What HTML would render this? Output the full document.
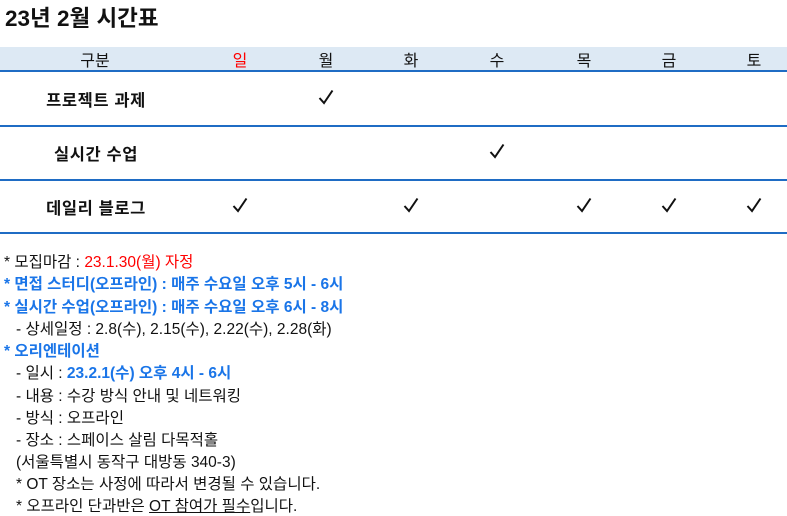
<!DOCTYPE html>
<html><head><meta charset="utf-8"><style>
body{margin:0;width:787px;height:515px;background:#fff;position:relative;overflow:hidden;font-family:"Liberation Sans","Noto Sans CJK KR",sans-serif;color:#111}
.a{position:absolute;white-space:nowrap}
.c{position:absolute;transform:translateX(-50%);white-space:nowrap}
.ln{position:absolute;left:0;width:787px;height:2px;background:#1f6cc4}
.hdr{position:absolute;left:0;top:47px;width:787px;height:24px;background:#dde9f4}
.h{font-size:16px;top:47px}
.r{font-size:16.5px;font-weight:bold;letter-spacing:0.6px}
.ck{position:absolute;width:16px;height:16px}
.t{position:absolute;left:4px;font-size:15.5px;white-space:nowrap}
.b{color:#1a75e8;font-weight:bold}
.red{color:#f00}
</style></head><body>
<div class="a" style="left:5px;top:1px;font-size:22.5px;font-weight:bold">23년 2월 시간표</div>
<div class="hdr"></div>
<div class="ln" style="top:70px"></div>
<div class="ln" style="top:125px"></div>
<div class="ln" style="top:179px"></div>
<div class="ln" style="top:232px"></div>
<div class="c h" style="left:95px">구분</div>
<div class="c h red" style="left:240px">일</div>
<div class="c h" style="left:326px">월</div>
<div class="c h" style="left:411px">화</div>
<div class="c h" style="left:497px">수</div>
<div class="c h" style="left:584px">목</div>
<div class="c h" style="left:669px">금</div>
<div class="c h" style="left:754px">토</div>
<div class="c r" style="left:96px;top:87px">프로젝트 과제</div>
<div class="c r" style="left:96px;top:141px">실시간 수업</div>
<div class="c r" style="left:96px;top:195px">데일리 블로그</div>
<svg width="0" height="0" style="position:absolute"><defs><symbol id="k" viewBox="0 0 16 16"><polyline points="1.5,9 6,14 14.5,1.5" fill="none" stroke="#111" stroke-width="2"/></symbol></defs></svg>
<svg class="ck" style="left:318px;top:89px"><use href="#k"/></svg>
<svg class="ck" style="left:489px;top:143px"><use href="#k"/></svg>
<svg class="ck" style="left:232px;top:197px"><use href="#k"/></svg>
<svg class="ck" style="left:403px;top:197px"><use href="#k"/></svg>
<svg class="ck" style="left:576px;top:197px"><use href="#k"/></svg>
<svg class="ck" style="left:661px;top:197px"><use href="#k"/></svg>
<svg class="ck" style="left:746px;top:197px"><use href="#k"/></svg>
<div class="t" style="top:250px">* 모집마감 : <span class="red">23.1.30(월) 자정</span></div>
<div class="t b" style="top:272px">* 면접 스터디(오프라인) : 매주 수요일 오후 5시 - 6시</div>
<div class="t b" style="top:295px">* 실시간 수업(오프라인) : 매주 수요일 오후 6시 - 8시</div>
<div class="t" style="top:317px;left:16px">- 상세일정 : 2.8(수), 2.15(수), 2.22(수), 2.28(화)</div>
<div class="t b" style="top:339px">* 오리엔테이션</div>
<div class="t" style="top:361px;left:16px">- 일시 : <span class="b">23.2.1(수) 오후 4시 - 6시</span></div>
<div class="t" style="top:384px;left:16px">- 내용 : 수강 방식 안내 및 네트워킹</div>
<div class="t" style="top:406px;left:16px">- 방식 : 오프라인</div>
<div class="t" style="top:428px;left:16px">- 장소 : 스페이스 살림 다목적홀</div>
<div class="t" style="top:450px;left:16px">(서울특별시 동작구 대방동 340-3)</div>
<div class="t" style="top:472px;left:16px">* OT 장소는 사정에 따라서 변경될 수 있습니다.</div>
<div class="t" style="top:494px;left:16px">* 오프라인 단과반은 <u>OT 참여가 필수</u>입니다.</div>
</body></html>
